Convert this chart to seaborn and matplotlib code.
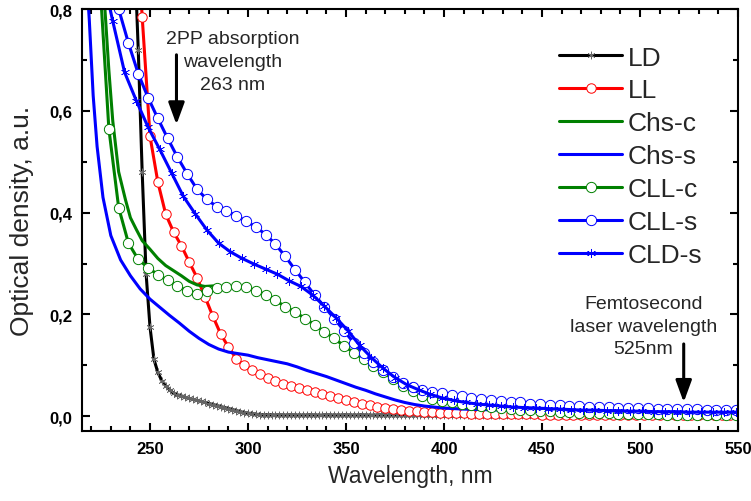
import numpy as np
import seaborn as sns
import matplotlib.pyplot as plt
from matplotlib.ticker import MultipleLocator, FuncFormatter

# spectra (x in nm, y in a.u.)
ld_vals = [0.92, 0.72, 0.48, 0.28, 0.175, 0.112, 0.086, 0.070, 0.060, 0.052, 0.045,
           0.042, 0.040, 0.037, 0.035, 0.033, 0.031, 0.029, 0.027, 0.025, 0.023, 0.021,
           0.019, 0.017, 0.015, 0.013, 0.011, 0.009, 0.007, 0.006, 0.005, 0.004, 0.003,
           0.003, 0.003, 0.003, 0.002, 0.003, 0.002, 0.002, 0.003, 0.002, 0.002, 0.002,
           0.002, 0.003, 0.002, 0.002, 0.002, 0.003, 0.002, 0.002, 0.002, 0.002, 0.003,
           0.002, 0.002, 0.002, 0.003, 0.002, 0.002, 0.002, 0.002, 0.003, 0.002, 0.002,
           0.002, 0.002, 0.003, 0.002, 0.002, 0.002, 0.002, 0.002, 0.003, 0.002, 0.002,
           0.002, 0.002, 0.002, 0.003, 0.002, 0.002, 0.002, 0.002, 0.002, 0.003, 0.002,
           0.002, 0.002, 0.002, 0.002, 0.003, 0.002, 0.002, 0.002, 0.002, 0.002, 0.002,
           0.003, 0.002, 0.002, 0.002, 0.002, 0.002, 0.002, 0.003, 0.002, 0.002, 0.002,
           0.002, 0.002, 0.002, 0.002, 0.002, 0.002, 0.002, 0.003, 0.002, 0.002, 0.002,
           0.002, 0.002, 0.002, 0.003, 0.002, 0.002, 0.002, 0.002, 0.002, 0.002, 0.002,
           0.003, 0.002, 0.002, 0.002, 0.002, 0.002, 0.002, 0.003, 0.002, 0.002, 0.002,
           0.002, 0.002, 0.002, 0.003, 0.002, 0.002, 0.002, 0.002, 0.002, 0.002]
ld_wl = np.arange(242, 242 + 2 * len(ld_vals), 2)

ll_vals = [1.05, 0.785, 0.55, 0.46, 0.397, 0.362, 0.335, 0.303, 0.272, 0.235, 0.197,
           0.162, 0.136, 0.113, 0.100, 0.090, 0.082, 0.075, 0.069, 0.064, 0.059, 0.055,
           0.051, 0.047, 0.043, 0.039, 0.035, 0.031, 0.028, 0.025, 0.022, 0.019, 0.017,
           0.015, 0.013, 0.011, 0.010, 0.009, 0.008, 0.007, 0.007, 0.006, 0.006, 0.005,
           0.005, 0.005, 0.004, 0.004, 0.004, 0.004, 0.004, 0.004, 0.003, 0.003, 0.003,
           0.003, 0.003, 0.003, 0.003, 0.003, 0.003, 0.003, 0.003, 0.002, 0.003, 0.002,
           0.002, 0.002, 0.003, 0.002, 0.002, 0.002, 0.002, 0.002, 0.002, 0.002, 0.002,
           0.002]
ll_wl = np.arange(242, 242 + 4 * len(ll_vals), 4)

chs_c_wl = [226, 227, 229, 231, 234, 237.5, 240, 243, 246, 250, 254, 258, 262, 266,
            270, 274, 278, 282, 287]
chs_c_vals = [0.87, 0.80, 0.68, 0.58, 0.48, 0.425, 0.39, 0.367, 0.345, 0.328, 0.31,
              0.296, 0.286, 0.276, 0.265, 0.258, 0.255, 0.256, 0.254]

chs_s_wl = [217, 219, 221, 223, 226, 230, 235, 240, 245, 250, 255, 260, 265, 270, 275,
            280, 285, 290, 295, 300, 305, 310, 315, 320, 325, 330, 335, 340, 345, 350,
            355, 360, 365, 370, 375, 380, 385, 390, 395, 400, 410, 420, 430, 440, 450,
            460, 470, 480, 490, 500, 510, 520, 530, 540, 550]
chs_s_vals = [0.90, 0.78, 0.63, 0.53, 0.43, 0.355, 0.307, 0.276, 0.25, 0.23, 0.214,
              0.198, 0.183, 0.167, 0.153, 0.141, 0.132, 0.126, 0.123, 0.120, 0.115,
              0.111, 0.107, 0.103, 0.097, 0.090, 0.084, 0.078, 0.071, 0.064, 0.057,
              0.051, 0.044, 0.038, 0.032, 0.027, 0.023, 0.020, 0.018, 0.016, 0.014,
              0.013, 0.012, 0.011, 0.010, 0.010, 0.009, 0.009, 0.008, 0.008, 0.007,
              0.007, 0.007, 0.006, 0.006]

cll_c_vals = [0.88, 0.565, 0.41, 0.34, 0.308, 0.292, 0.278, 0.267, 0.256, 0.246, 0.241,
              0.246, 0.251, 0.253, 0.255, 0.254, 0.246, 0.239, 0.228, 0.215, 0.205,
              0.192, 0.180, 0.166, 0.153, 0.138, 0.125, 0.112, 0.099, 0.086, 0.073,
              0.060, 0.050, 0.040, 0.034, 0.030, 0.027, 0.024, 0.022, 0.020, 0.018,
              0.016, 0.015, 0.013, 0.012, 0.011, 0.010, 0.009, 0.008, 0.007, 0.007,
              0.006, 0.006, 0.005, 0.005, 0.004, 0.004, 0.004, 0.003, 0.003, 0.003,
              0.003, 0.002, 0.002, 0.002, 0.002]
cll_c_wl = np.arange(224, 224 + 5 * len(cll_c_vals), 5)

cll_s_vals = [0.93, 0.86, 0.80, 0.733, 0.673, 0.626, 0.585, 0.546, 0.509, 0.476, 0.446,
              0.426, 0.412, 0.403, 0.394, 0.383, 0.372, 0.357, 0.338, 0.314, 0.288,
              0.263, 0.238, 0.215, 0.192, 0.168, 0.144, 0.124, 0.106, 0.090, 0.077,
              0.066, 0.057, 0.051, 0.047, 0.045, 0.042, 0.039, 0.036, 0.034, 0.032,
              0.030, 0.028, 0.027, 0.025, 0.024, 0.023, 0.022, 0.021, 0.020, 0.019,
              0.018, 0.018, 0.017, 0.017, 0.016, 0.016, 0.015, 0.015, 0.014, 0.014,
              0.014, 0.013, 0.013, 0.013, 0.013]
cll_s_wl = np.arange(224, 224 + 5 * len(cll_s_vals), 5)

cld_s_vals = [0.88, 0.776, 0.676, 0.62, 0.568, 0.524, 0.478, 0.432, 0.398, 0.366, 0.340,
              0.323, 0.310, 0.299, 0.289, 0.279, 0.266, 0.255, 0.238, 0.216, 0.193,
              0.168, 0.139, 0.115, 0.094, 0.076, 0.062, 0.052, 0.043, 0.036, 0.031,
              0.027, 0.024, 0.022, 0.020, 0.018, 0.017, 0.016, 0.015, 0.014, 0.013,
              0.012, 0.012, 0.011, 0.011, 0.010, 0.010, 0.009, 0.009, 0.009, 0.008,
              0.008, 0.008, 0.008, 0.008]
cld_s_wl = np.arange(225, 225 + 6 * len(cld_s_vals), 6)

sns.set_style('ticks')
plt.rcParams['font.family'] = ['Liberation Sans', 'DejaVu Sans']

RED, GREEN, BLUE = '#ff0000', '#008000', '#0000ff'
LW = 2.2

fig = plt.figure(figsize=(7.51, 5.02), dpi=100)
ax = fig.add_axes([82 / 751, 1 - 432 / 502, 656 / 751, 422 / 502])

star = (6, 2, 0)
sns.lineplot(x=ld_wl, y=ld_vals, ax=ax, color='black', linewidth=LW, marker=star,
             markersize=5.5, markeredgecolor='#666666', markeredgewidth=0.5, label='LD')
sns.lineplot(x=ll_wl, y=ll_vals, ax=ax, color=RED, linewidth=LW, marker='o',
             markersize=6.8, markerfacecolor='white', markeredgecolor=RED,
             markeredgewidth=0.7, label='LL')
sns.lineplot(x=chs_c_wl, y=chs_c_vals, ax=ax, color=GREEN, linewidth=LW, label='Chs-c')
sns.lineplot(x=chs_s_wl, y=chs_s_vals, ax=ax, color=BLUE, linewidth=LW, label='Chs-s')
sns.lineplot(x=cll_c_wl, y=cll_c_vals, ax=ax, color=GREEN, linewidth=LW, marker='o',
             markersize=7.4, markerfacecolor='white', markeredgecolor=GREEN,
             markeredgewidth=0.7, label='CLL-c')
sns.lineplot(x=cll_s_wl, y=cll_s_vals, ax=ax, color=BLUE, linewidth=LW, marker='o',
             markersize=7.4, markerfacecolor='white', markeredgecolor=BLUE,
             markeredgewidth=0.7, label='CLL-s')
sns.lineplot(x=cld_s_wl, y=cld_s_vals, ax=ax, color=BLUE, linewidth=LW, marker=star,
             markersize=6.5, markeredgecolor=BLUE, markeredgewidth=0.45, label='CLD-s')

ax.set_xlim(215.3, 550)
ax.set_ylim(-0.029, 0.8)
ax.xaxis.set_major_locator(MultipleLocator(50))
ax.xaxis.set_minor_locator(MultipleLocator(10))
ax.yaxis.set_major_locator(MultipleLocator(0.2))
ax.yaxis.set_minor_locator(MultipleLocator(0.1))
ax.yaxis.set_major_formatter(FuncFormatter(
    lambda v, p: f'{0.0 if abs(v) < 1e-9 else v:.1f}'.replace('.', ',')))
ax.tick_params(which='both', direction='in', top=True, right=True, width=1.5,
               labelsize=12, color='black', labelcolor='black')
ax.tick_params(which='major', length=6, pad=7)
ax.tick_params(which='minor', length=3.5)
for lab in ax.get_xticklabels() + ax.get_yticklabels():
    lab.set_fontweight('bold')
for sp in ax.spines.values():
    sp.set_linewidth(1.5)
    sp.set_color('black')

ax.set_xlabel('Wavelength, nm', fontsize=16.5, labelpad=6)
ax.set_ylabel('Optical density, a.u.', fontsize=19, labelpad=11)

# annotations with arrows
ax.text(292.2, 0.697, '2PP absorption\nwavelength\n263 nm', ha='center', va='center',
        fontsize=14, linespacing=1.45)
ax.annotate('', xy=(263.5, 0.573), xytext=(263.5, 0.71),
            arrowprops=dict(arrowstyle='-|>,head_length=0.6,head_width=0.22',
                            color='black', lw=2.2, mutation_scale=22,
                            shrinkA=0, shrinkB=0))
ax.text(501.6, 0.177, 'Femtosecond\nlaser wavelength\n525nm', ha='center', va='center',
        fontsize=14, linespacing=1.45)
ax.annotate('', xy=(522.3, 0.0275), xytext=(522.3, 0.142),
            arrowprops=dict(arrowstyle='-|>,head_length=0.6,head_width=0.22',
                            color='black', lw=2.2, mutation_scale=22,
                            shrinkA=0, shrinkB=0))

h, l = ax.get_legend_handles_labels()
ax.legend(h, l, loc='upper left', bbox_to_anchor=((559 - 82) / 656, 0.9135),
          frameon=False, fontsize=19, handlelength=2.4, handletextpad=0.2,
          labelspacing=0.34, borderpad=0, borderaxespad=0, numpoints=1)

fig.savefig('out.png', dpi=100)
